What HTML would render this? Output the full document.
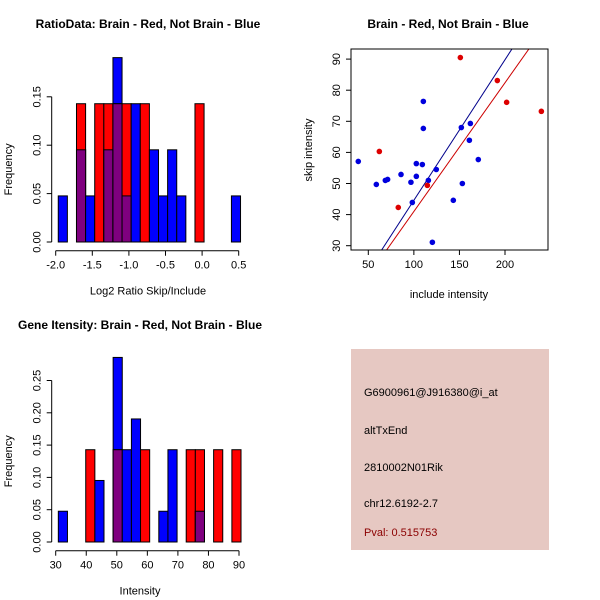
<!DOCTYPE html>
<html><head><meta charset="utf-8"><style>
body{margin:0;background:#fff}
svg{display:block;font-family:"Liberation Sans",sans-serif}
</style></head><body>
<svg id="c" width="600" height="600" viewBox="0 0 600 600">
<rect x="351" y="349" width="198" height="201" fill="#e6c8c2"/>
<text x="364" y="396" font-size="11">G6900961@J916380@i_at</text>
<text x="364" y="434" font-size="11">altTxEnd</text>
<text x="364" y="471" font-size="11">2810002N01Rik</text>
<text x="364" y="507" font-size="11">chr12.6192-2.7</text>
<text x="364" y="536" font-size="11" fill="#8b0000">Pval: 0.515753</text>
</svg>
<script>
// ---- data ----
const ratioBinStart = -1.965, ratioBinWidth = 0.1245;
const ratioRed  = [0,0,1,0,1,1,1,1,0,1,0,0,0,0,0,1,0,0,0,0];
const ratioBlue = [1,0,2,1,0,2,4,1,3,0,2,1,2,1,0,0,0,0,0,1];
const ratioXTicks = [-2.0,-1.5,-1.0,-0.5,0.0,0.5];
const ratioYTicks = [0,0.05,0.10,0.15];
const intBinStart = 30.86, intBinWidth = 2.99;
const intRed  = [0,0,0,1,0,0,1,0,0,1,0,0,0,0,1,1,0,1,0,1];
const intBlue = [1,0,0,0,2,0,6,3,4,0,0,1,3,0,0,1,0,0,0,0];
const intXTicks = [30,40,50,60,70,80,90];
const intYTicks = [0,0.05,0.10,0.15,0.20,0.25];
const blueInc  = [39,58.8,68.7,71.2,85.9,96.8,98.3,102.7,102.7,109.3,110.4,110.4,115.9,120.3,124.6,143.3,152.1,153.2,160.9,162,170.7];
const blueSkip = [57.1,49.7,51,51.3,52.9,50.4,43.9,56.4,52.3,56.1,76.4,67.7,51,31.1,54.5,44.6,68,50,63.9,69.3,57.7];
const redInc   = [62.1,82.9,114.8,151,191.6,201.8,239.9];
const redSkip  = [60.3,42.3,49.4,90.5,83.1,76.1,73.2];
const blueFit = [0.452,-0.6];
const redFit  = [0.414,-0.4];
const scXTicks = [50,100,150,200];
const scYTicks = [30,40,50,60,70,80,90];

const svg = document.getElementById('c');
const NS = 'http://www.w3.org/2000/svg';
function mk(tag, attrs, parent){const e=document.createElementNS(NS,tag);for(const k in attrs)e.setAttribute(k,attrs[k]);(parent||svg).appendChild(e);return e;}
function txt(x,y,s,size,extra){const t=mk('text',Object.assign({x:x,y:y,'font-size':size,'text-anchor':'middle'},extra||{}));t.textContent=s;return t;}

function hist(o){
  const g=mk('g',{});
  
  
  const sx=v=>o.x0+(v-o.xmin)*o.kx, sy=v=>o.y0-v*o.ky;
  const nb=o.blue.reduce((a,b)=>a+b,0), nr=o.red.reduce((a,b)=>a+b,0);
  for(let i=0;i<o.red.length;i++){
    const l=sx(o.bs+i*o.bw), r=sx(o.bs+(i+1)*o.bw);
    const fb=o.blue[i]/nb, fr=o.red[i]/nr;
    const draw=(f,col,nm)=>{if(f<=0)return;const e=mk('rect',{x:l,y:sy(f),width:r-l,height:sy(0)-sy(f),fill:col,stroke:'#000','stroke-width':1},g);
      
      };
    draw(fb,'#0000ff','bar-blue-'+i);
    draw(fr,'#ff0000','bar-red-'+i);
    draw(Math.min(fb,fr),'#7f007f','bar-overlap-'+i);
  }
  const xa=mk('g',{},g);
  
  
  const xt=o.xticks;
  mk('line',{x1:sx(xt[0]),x2:sx(xt[xt.length-1]),y1:o.xaY,y2:o.xaY,stroke:'#000'},xa);
  xt.forEach(v=>{mk('line',{x1:sx(v),x2:sx(v),y1:o.xaY,y2:o.xaY+5,stroke:'#000'},xa);
    const t=txt(sx(v),o.xaY+18,o.xfmt(v),11,{});xa.appendChild(t);
    
    });
  const ya=mk('g',{},g);
  
  
  const yt=o.yticks;
  mk('line',{x1:o.yaX,x2:o.yaX,y1:sy(yt[0]),y2:sy(yt[yt.length-1]),stroke:'#000'},ya);
  yt.forEach(v=>{mk('line',{x1:o.yaX,x2:o.yaX-5,y1:sy(v),y2:sy(v),stroke:'#000'},ya);
    const lx=o.yaX-11;
    const t=txt(lx,sy(v),v.toFixed(2),11,{transform:'rotate(-90 '+lx+' '+sy(v)+')'});ya.appendChild(t);
    
    });
  const ti=txt(o.cx,o.titleY,o.title,12,{'font-weight':'bold'});
  
  
  const xl=txt(o.cx,o.xaY+44,o.xlab,11,{});
  
  
  const yy=(sy(0)+sy(yt[yt.length-1]))/2;
  const yl=txt(12,yy,'Frequency',11,{transform:'rotate(-90 12 '+yy+')'});
  
  
}
hist({name:'ratio-histogram',red:ratioRed,blue:ratioBlue,bs:ratioBinStart,bw:ratioBinWidth,xmin:-2,x0:55.7,kx:73.2,y0:242,ky:968,
  xticks:ratioXTicks,yticks:ratioYTicks,xaY:250.7,yaX:51.7,xfmt:v=>v.toFixed(1),cx:148,titleY:28,
  title:'RatioData: Brain - Red, Not Brain - Blue',xlab:'Log2 Ratio Skip/Include'});
hist({name:'intensity-histogram',red:intRed,blue:intBlue,bs:intBinStart,bw:intBinWidth,xmin:30,x0:55.7,kx:3.055,y0:542,ky:646,
  xticks:intXTicks,yticks:intYTicks,xaY:550.7,yaX:51.7,xfmt:v=>String(v),cx:140,titleY:329,
  title:'Gene Itensity: Brain - Red, Not Brain - Blue',xlab:'Intensity'});

(function(){
  const g=mk('g',{});
  
  
  const L=351,R=548,T=49,B=250;
  const sx=v=>368.3+(v-50)*0.9113, sy=v=>245.7-(v-30)*3.11;
  mk('clipPath',{id:'clp'},g);
  mk('rect',{x:L,y:T,width:R-L,height:B-T},g.lastChild);
  const fit=(f,col,nm)=>{const x1=20,x2=260;const e=mk('line',{x1:sx(x1),y1:sy(f[0]*x1+f[1]),x2:sx(x2),y2:sy(f[0]*x2+f[1]),stroke:col,'stroke-width':1,'clip-path':'url(#clp)'},g);
    
    };
  fit(blueFit,'#00008b','blue-fit-line');
  fit(redFit,'#cc0000','red-fit-line');
  blueInc.forEach((v,i)=>{const c=mk('circle',{cx:sx(v),cy:sy(blueSkip[i]),r:2.8,fill:'#0000dd'},g);
    
    });
  redInc.forEach((v,i)=>{const c=mk('circle',{cx:sx(v),cy:sy(redSkip[i]),r:2.8,fill:'#dd0000'},g);
    
    });
  mk('rect',{x:L,y:T,width:R-L,height:B-T,fill:'none',stroke:'#000'},g);
  scXTicks.forEach(v=>{mk('line',{x1:sx(v),x2:sx(v),y1:B,y2:B+5,stroke:'#000'},g);
    const t=txt(sx(v),B+18,String(v),11,{});g.appendChild(t);
    
    });
  scYTicks.forEach(v=>{mk('line',{x1:L,x2:L-5,y1:sy(v),y2:sy(v),stroke:'#000'},g);
    const lx=L-11;
    const t=txt(lx,sy(v),String(v),11,{transform:'rotate(-90 '+lx+' '+sy(v)+')'});g.appendChild(t);
    
    });
  const ti=txt(448,28,'Brain - Red, Not Brain - Blue',12,{'font-weight':'bold'});
  
  
  const xl=txt(449,298,'include intensity',11,{});
  
  
  const yl=txt(312,150,'skip intensity',11,{transform:'rotate(-90 312 150)'});
  
  
})();
</script>
</body></html>
